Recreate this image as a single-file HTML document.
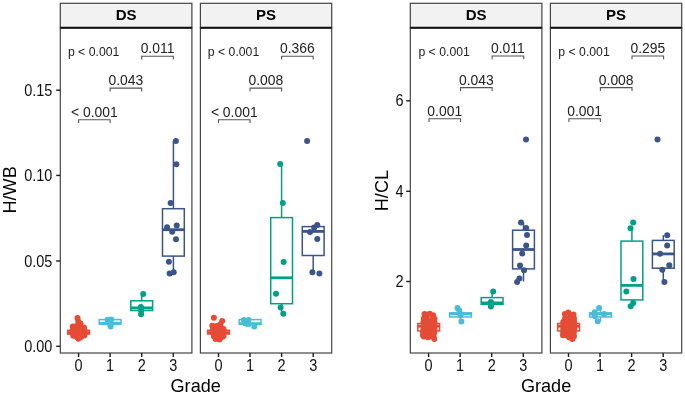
<!DOCTYPE html>
<html><head><meta charset="utf-8"><style>
html,body{margin:0;padding:0;background:#fff;width:685px;height:395px;overflow:hidden}
svg{display:block;will-change:transform}
text{font-family:"Liberation Sans",sans-serif;fill:#000}
.strip{font-size:15px;font-weight:bold;text-anchor:middle;fill:#000}
.tk{font-size:14.5px;fill:#111}
.ti{font-size:18.1px;fill:#000}
.pv{font-size:12.25px;fill:#222}
.br{font-size:13.9px;text-anchor:middle;fill:#222}
</style></head><body>
<svg width="685" height="395" viewBox="0 0 685 395">
<rect x="60.3" y="3.3" width="131.60000000000002" height="24.4" fill="#F2F2F2" stroke="#444" stroke-width="1.2"/>
<text x="126.1" y="20.3" class="strip">DS</text>
<rect x="60.3" y="27.7" width="131.60000000000002" height="325.3" fill="none" stroke="#444" stroke-width="1.2"/>
<line x1="60.3" y1="27.7" x2="191.9" y2="27.7" stroke="#111" stroke-width="2"/>
<rect x="200.4" y="3.3" width="131.29999999999998" height="24.4" fill="#F2F2F2" stroke="#444" stroke-width="1.2"/>
<text x="266.05" y="20.3" class="strip">PS</text>
<rect x="200.4" y="27.7" width="131.29999999999998" height="325.3" fill="none" stroke="#444" stroke-width="1.2"/>
<line x1="200.4" y1="27.7" x2="331.7" y2="27.7" stroke="#111" stroke-width="2"/>
<line x1="78.6" y1="353.0" x2="78.6" y2="357.0" stroke="#222" stroke-width="1.45"/>
<text transform="translate(78.6 370.6) scale(1 1.09)" class="tk" text-anchor="middle">0</text>
<line x1="110.1" y1="353.0" x2="110.1" y2="357.0" stroke="#222" stroke-width="1.45"/>
<text transform="translate(110.1 370.6) scale(1 1.09)" class="tk" text-anchor="middle">1</text>
<line x1="141.7" y1="353.0" x2="141.7" y2="357.0" stroke="#222" stroke-width="1.45"/>
<text transform="translate(141.7 370.6) scale(1 1.09)" class="tk" text-anchor="middle">2</text>
<line x1="173.3" y1="353.0" x2="173.3" y2="357.0" stroke="#222" stroke-width="1.45"/>
<text transform="translate(173.3 370.6) scale(1 1.09)" class="tk" text-anchor="middle">3</text>
<line x1="218.5" y1="353.0" x2="218.5" y2="357.0" stroke="#222" stroke-width="1.45"/>
<text transform="translate(218.5 370.6) scale(1 1.09)" class="tk" text-anchor="middle">0</text>
<line x1="250.0" y1="353.0" x2="250.0" y2="357.0" stroke="#222" stroke-width="1.45"/>
<text transform="translate(250.0 370.6) scale(1 1.09)" class="tk" text-anchor="middle">1</text>
<line x1="281.6" y1="353.0" x2="281.6" y2="357.0" stroke="#222" stroke-width="1.45"/>
<text transform="translate(281.6 370.6) scale(1 1.09)" class="tk" text-anchor="middle">2</text>
<line x1="313.20000000000005" y1="353.0" x2="313.20000000000005" y2="357.0" stroke="#222" stroke-width="1.45"/>
<text transform="translate(313.20000000000005 370.6) scale(1 1.09)" class="tk" text-anchor="middle">3</text>
<text x="195.7" y="391.5" class="ti" text-anchor="middle">Grade</text>
<text x="67.90" y="56.1" class="pv">p &lt; 0.001</text>
<text x="207.80" y="56.1" class="pv">p &lt; 0.001</text>
<path d="M78.6 123.1V119.8H110.1V123.1" fill="none" stroke="#555" stroke-width="1.1"/>
<text x="94.35" y="116.7" class="br">< 0.001</text>
<path d="M110.1 91.39999999999999V88.1H141.7V91.39999999999999" fill="none" stroke="#555" stroke-width="1.1"/>
<text x="125.89999999999999" y="85.0" class="br">0.043</text>
<path d="M141.7 59.599999999999994V56.3H173.3V59.599999999999994" fill="none" stroke="#555" stroke-width="1.1"/>
<text x="157.5" y="53.199999999999996" class="br">0.011</text>
<path d="M218.5 123.1V119.8H250.0V123.1" fill="none" stroke="#555" stroke-width="1.1"/>
<text x="234.25" y="116.7" class="br">< 0.001</text>
<path d="M250.0 91.39999999999999V88.1H281.6V91.39999999999999" fill="none" stroke="#555" stroke-width="1.1"/>
<text x="265.8" y="85.0" class="br">0.008</text>
<path d="M281.6 59.599999999999994V56.3H313.20000000000005V59.599999999999994" fill="none" stroke="#555" stroke-width="1.1"/>
<text x="297.40000000000003" y="53.199999999999996" class="br">0.366</text>
<rect x="410.3" y="3.3" width="131.59999999999997" height="24.4" fill="#F2F2F2" stroke="#444" stroke-width="1.2"/>
<text x="476.1" y="20.3" class="strip">DS</text>
<rect x="410.3" y="27.7" width="131.59999999999997" height="325.3" fill="none" stroke="#444" stroke-width="1.2"/>
<line x1="410.3" y1="27.7" x2="541.9" y2="27.7" stroke="#111" stroke-width="2"/>
<rect x="550.4" y="3.3" width="131.30000000000007" height="24.4" fill="#F2F2F2" stroke="#444" stroke-width="1.2"/>
<text x="616.05" y="20.3" class="strip">PS</text>
<rect x="550.4" y="27.7" width="131.30000000000007" height="325.3" fill="none" stroke="#444" stroke-width="1.2"/>
<line x1="550.4" y1="27.7" x2="681.7" y2="27.7" stroke="#111" stroke-width="2"/>
<line x1="428.6" y1="353.0" x2="428.6" y2="357.0" stroke="#222" stroke-width="1.45"/>
<text transform="translate(428.6 370.6) scale(1 1.09)" class="tk" text-anchor="middle">0</text>
<line x1="460.1" y1="353.0" x2="460.1" y2="357.0" stroke="#222" stroke-width="1.45"/>
<text transform="translate(460.1 370.6) scale(1 1.09)" class="tk" text-anchor="middle">1</text>
<line x1="491.7" y1="353.0" x2="491.7" y2="357.0" stroke="#222" stroke-width="1.45"/>
<text transform="translate(491.7 370.6) scale(1 1.09)" class="tk" text-anchor="middle">2</text>
<line x1="523.3" y1="353.0" x2="523.3" y2="357.0" stroke="#222" stroke-width="1.45"/>
<text transform="translate(523.3 370.6) scale(1 1.09)" class="tk" text-anchor="middle">3</text>
<line x1="568.5" y1="353.0" x2="568.5" y2="357.0" stroke="#222" stroke-width="1.45"/>
<text transform="translate(568.5 370.6) scale(1 1.09)" class="tk" text-anchor="middle">0</text>
<line x1="600.0" y1="353.0" x2="600.0" y2="357.0" stroke="#222" stroke-width="1.45"/>
<text transform="translate(600.0 370.6) scale(1 1.09)" class="tk" text-anchor="middle">1</text>
<line x1="631.6" y1="353.0" x2="631.6" y2="357.0" stroke="#222" stroke-width="1.45"/>
<text transform="translate(631.6 370.6) scale(1 1.09)" class="tk" text-anchor="middle">2</text>
<line x1="663.1999999999999" y1="353.0" x2="663.1999999999999" y2="357.0" stroke="#222" stroke-width="1.45"/>
<text transform="translate(663.1999999999999 370.6) scale(1 1.09)" class="tk" text-anchor="middle">3</text>
<text x="546.1" y="391.5" class="ti" text-anchor="middle">Grade</text>
<text x="418.40" y="56.1" class="pv">p &lt; 0.001</text>
<text x="558.30" y="56.1" class="pv">p &lt; 0.001</text>
<path d="M429.0 122.0V118.7H460.5V122.0" fill="none" stroke="#555" stroke-width="1.1"/>
<text x="444.75" y="115.60000000000001" class="br">0.001</text>
<path d="M460.5 90.89999999999999V87.6H492.09999999999997V90.89999999999999" fill="none" stroke="#555" stroke-width="1.1"/>
<text x="476.29999999999995" y="84.5" class="br">0.043</text>
<path d="M492.09999999999997 59.3V56.0H523.6999999999999V59.3" fill="none" stroke="#555" stroke-width="1.1"/>
<text x="507.9" y="52.9" class="br">0.011</text>
<path d="M568.9 122.0V118.7H600.4V122.0" fill="none" stroke="#555" stroke-width="1.1"/>
<text x="584.65" y="115.60000000000001" class="br">0.001</text>
<path d="M600.4 90.89999999999999V87.6H632.0V90.89999999999999" fill="none" stroke="#555" stroke-width="1.1"/>
<text x="616.2" y="84.5" class="br">0.008</text>
<path d="M632.0 59.3V56.0H663.5999999999999V59.3" fill="none" stroke="#555" stroke-width="1.1"/>
<text x="647.8" y="52.9" class="br">0.295</text>
<line x1="56.2" y1="346.3" x2="60.3" y2="346.3" stroke="#222" stroke-width="1.45"/>
<text transform="translate(52.4 351.80) scale(1 1.09)" class="tk" text-anchor="end">0.00</text>
<line x1="56.2" y1="261.0" x2="60.3" y2="261.0" stroke="#222" stroke-width="1.45"/>
<text transform="translate(52.4 266.50) scale(1 1.09)" class="tk" text-anchor="end">0.05</text>
<line x1="56.2" y1="175.4" x2="60.3" y2="175.4" stroke="#222" stroke-width="1.45"/>
<text transform="translate(52.4 180.90) scale(1 1.09)" class="tk" text-anchor="end">0.10</text>
<line x1="56.2" y1="90.2" x2="60.3" y2="90.2" stroke="#222" stroke-width="1.45"/>
<text transform="translate(52.4 95.70) scale(1 1.09)" class="tk" text-anchor="end">0.15</text>
<text transform="translate(16.3 189.9) rotate(-90)" class="ti" text-anchor="middle">H/WB</text>
<line x1="406.2" y1="281.5" x2="410.3" y2="281.5" stroke="#222" stroke-width="1.45"/>
<text transform="translate(403.6 287.10) scale(1 1.09)" class="tk" text-anchor="end">2</text>
<line x1="406.2" y1="191.3" x2="410.3" y2="191.3" stroke="#222" stroke-width="1.45"/>
<text transform="translate(403.6 196.90) scale(1 1.09)" class="tk" text-anchor="end">4</text>
<line x1="406.2" y1="100.8" x2="410.3" y2="100.8" stroke="#222" stroke-width="1.45"/>
<text transform="translate(403.6 106.40) scale(1 1.09)" class="tk" text-anchor="end">6</text>
<text transform="translate(387.7 190.6) rotate(-90)" class="ti" text-anchor="middle">H/CL</text>
<line x1="78.6" y1="321.0" x2="78.6" y2="330.3" stroke="#E64B35" stroke-width="1.5"/>
<line x1="78.6" y1="334.1" x2="78.6" y2="338.0" stroke="#E64B35" stroke-width="1.5"/>
<rect x="67.69999999999999" y="330.3" width="21.8" height="3.8000000000000114" fill="#fff" stroke="#E64B35" stroke-width="1.5"/>
<line x1="67.69999999999999" y1="332.6" x2="89.5" y2="332.6" stroke="#E64B35" stroke-width="2.8"/>
<circle cx="77.5" cy="317.9" r="3.0" fill="#E64B35"/>
<circle cx="78.3" cy="321.5" r="3.0" fill="#E64B35"/>
<circle cx="80.5" cy="323.5" r="3.0" fill="#E64B35"/>
<circle cx="72.8" cy="326.5" r="3.0" fill="#E64B35"/>
<circle cx="76.5" cy="326" r="3.0" fill="#E64B35"/>
<circle cx="80.5" cy="326.5" r="3.0" fill="#E64B35"/>
<circle cx="84" cy="327.5" r="3.0" fill="#E64B35"/>
<circle cx="72.8" cy="330" r="3.0" fill="#E64B35"/>
<circle cx="76.5" cy="330" r="3.0" fill="#E64B35"/>
<circle cx="80.5" cy="330" r="3.0" fill="#E64B35"/>
<circle cx="84.3" cy="330.5" r="3.0" fill="#E64B35"/>
<circle cx="72.8" cy="333.5" r="3.0" fill="#E64B35"/>
<circle cx="76.5" cy="333.5" r="3.0" fill="#E64B35"/>
<circle cx="80.5" cy="333.5" r="3.0" fill="#E64B35"/>
<circle cx="84.3" cy="334" r="3.0" fill="#E64B35"/>
<circle cx="73.3" cy="335.8" r="3.0" fill="#E64B35"/>
<circle cx="76.5" cy="336.8" r="3.0" fill="#E64B35"/>
<circle cx="78.3" cy="338.7" r="3.0" fill="#E64B35"/>
<circle cx="81" cy="337" r="3.0" fill="#E64B35"/>
<circle cx="84.2" cy="335.6" r="3.0" fill="#E64B35"/>
<circle cx="84.4" cy="333.5" r="3.0" fill="#E64B35"/>
<line x1="110.1" y1="319.0" x2="110.1" y2="319.6" stroke="#4DBBD5" stroke-width="1.5"/>
<line x1="110.1" y1="324.0" x2="110.1" y2="326.5" stroke="#4DBBD5" stroke-width="1.5"/>
<rect x="99.19999999999999" y="319.6" width="21.8" height="4.399999999999977" fill="#fff" stroke="#4DBBD5" stroke-width="1.5"/>
<line x1="99.19999999999999" y1="323.4" x2="121.0" y2="323.4" stroke="#4DBBD5" stroke-width="2.8"/>
<circle cx="107.6" cy="319.7" r="3.0" fill="#4DBBD5"/>
<circle cx="111.2" cy="319.5" r="3.0" fill="#4DBBD5"/>
<circle cx="109.8" cy="322.6" r="3.0" fill="#4DBBD5"/>
<circle cx="110.4" cy="324.5" r="3.0" fill="#4DBBD5"/>
<circle cx="110.6" cy="326.6" r="3.0" fill="#4DBBD5"/>
<line x1="141.7" y1="294.1" x2="141.7" y2="300.8" stroke="#00A087" stroke-width="1.5"/>
<line x1="141.7" y1="310.5" x2="141.7" y2="314.2" stroke="#00A087" stroke-width="1.5"/>
<rect x="130.79999999999998" y="300.8" width="21.8" height="9.699999999999989" fill="#fff" stroke="#00A087" stroke-width="1.5"/>
<line x1="130.79999999999998" y1="307.9" x2="152.6" y2="307.9" stroke="#00A087" stroke-width="2.8"/>
<circle cx="143.2" cy="294.1" r="3.0" fill="#00A087"/>
<circle cx="140.9" cy="306.9" r="3.0" fill="#00A087"/>
<circle cx="141.1" cy="310.5" r="3.0" fill="#00A087"/>
<circle cx="141.1" cy="314.2" r="3.0" fill="#00A087"/>
<line x1="173.4" y1="140.9" x2="173.4" y2="208.7" stroke="#3C5488" stroke-width="1.5"/>
<line x1="173.4" y1="256.1" x2="173.4" y2="272.5" stroke="#3C5488" stroke-width="1.5"/>
<rect x="162.5" y="208.7" width="21.8" height="47.400000000000034" fill="#fff" stroke="#3C5488" stroke-width="1.5"/>
<line x1="162.5" y1="229.7" x2="184.3" y2="229.7" stroke="#3C5488" stroke-width="2.8"/>
<circle cx="175.9" cy="140.9" r="3.0" fill="#3C5488"/>
<circle cx="176.4" cy="164.2" r="3.0" fill="#3C5488"/>
<circle cx="170.6" cy="203" r="3.0" fill="#3C5488"/>
<circle cx="167.1" cy="227.3" r="3.0" fill="#3C5488"/>
<circle cx="176.7" cy="225.6" r="3.0" fill="#3C5488"/>
<circle cx="172.2" cy="231.8" r="3.0" fill="#3C5488"/>
<circle cx="176" cy="239.2" r="3.0" fill="#3C5488"/>
<circle cx="168.9" cy="261.8" r="3.0" fill="#3C5488"/>
<circle cx="169.6" cy="273.4" r="3.0" fill="#3C5488"/>
<circle cx="173.7" cy="272.2" r="3.0" fill="#3C5488"/>
<line x1="218.5" y1="326.0" x2="218.5" y2="330.3" stroke="#E64B35" stroke-width="1.5"/>
<line x1="218.5" y1="334.0" x2="218.5" y2="338.0" stroke="#E64B35" stroke-width="1.5"/>
<rect x="207.6" y="330.3" width="21.8" height="3.6999999999999886" fill="#fff" stroke="#E64B35" stroke-width="1.5"/>
<line x1="207.6" y1="332.6" x2="229.4" y2="332.6" stroke="#E64B35" stroke-width="2.8"/>
<circle cx="213.9" cy="317.7" r="3.0" fill="#E64B35"/>
<circle cx="222.2" cy="321.1" r="3.0" fill="#E64B35"/>
<circle cx="220.3" cy="324.2" r="3.0" fill="#E64B35"/>
<circle cx="212.3" cy="325.8" r="3.0" fill="#E64B35"/>
<circle cx="216.5" cy="326" r="3.0" fill="#E64B35"/>
<circle cx="220.5" cy="326.5" r="3.0" fill="#E64B35"/>
<circle cx="223.5" cy="329" r="3.0" fill="#E64B35"/>
<circle cx="213" cy="329.5" r="3.0" fill="#E64B35"/>
<circle cx="217" cy="330" r="3.0" fill="#E64B35"/>
<circle cx="221" cy="330.5" r="3.0" fill="#E64B35"/>
<circle cx="223.5" cy="332.5" r="3.0" fill="#E64B35"/>
<circle cx="213" cy="333" r="3.0" fill="#E64B35"/>
<circle cx="217" cy="333.5" r="3.0" fill="#E64B35"/>
<circle cx="221" cy="334" r="3.0" fill="#E64B35"/>
<circle cx="223.5" cy="336" r="3.0" fill="#E64B35"/>
<circle cx="214" cy="336.5" r="3.0" fill="#E64B35"/>
<circle cx="218" cy="337" r="3.0" fill="#E64B35"/>
<circle cx="221.5" cy="337" r="3.0" fill="#E64B35"/>
<circle cx="215.6" cy="338.9" r="3.0" fill="#E64B35"/>
<circle cx="219.5" cy="339.5" r="3.0" fill="#E64B35"/>
<circle cx="222.6" cy="336.5" r="3.0" fill="#E64B35"/>
<line x1="250.1" y1="319.5" x2="250.1" y2="319.6" stroke="#4DBBD5" stroke-width="1.5"/>
<line x1="250.1" y1="324.2" x2="250.1" y2="326.5" stroke="#4DBBD5" stroke-width="1.5"/>
<rect x="239.2" y="319.6" width="21.8" height="4.599999999999966" fill="#fff" stroke="#4DBBD5" stroke-width="1.5"/>
<line x1="239.2" y1="323.6" x2="261.0" y2="323.6" stroke="#4DBBD5" stroke-width="2.8"/>
<circle cx="243.9" cy="320" r="3.0" fill="#4DBBD5"/>
<circle cx="248.6" cy="319.9" r="3.0" fill="#4DBBD5"/>
<circle cx="245.5" cy="323.6" r="3.0" fill="#4DBBD5"/>
<circle cx="248.2" cy="324" r="3.0" fill="#4DBBD5"/>
<circle cx="254.3" cy="326.6" r="3.0" fill="#4DBBD5"/>
<line x1="281.6" y1="164.0" x2="281.6" y2="217.6" stroke="#00A087" stroke-width="1.5"/>
<line x1="281.6" y1="303.7" x2="281.6" y2="313.8" stroke="#00A087" stroke-width="1.5"/>
<rect x="270.70000000000005" y="217.6" width="21.8" height="86.1" fill="#fff" stroke="#00A087" stroke-width="1.5"/>
<line x1="270.70000000000005" y1="277.8" x2="292.5" y2="277.8" stroke="#00A087" stroke-width="2.8"/>
<circle cx="280.2" cy="164" r="3.0" fill="#00A087"/>
<circle cx="282.8" cy="203.1" r="3.0" fill="#00A087"/>
<circle cx="283.6" cy="262.1" r="3.0" fill="#00A087"/>
<circle cx="276" cy="293.8" r="3.0" fill="#00A087"/>
<circle cx="280.6" cy="307.6" r="3.0" fill="#00A087"/>
<circle cx="283.3" cy="313.8" r="3.0" fill="#00A087"/>
<line x1="313.2" y1="225.1" x2="313.2" y2="226.6" stroke="#3C5488" stroke-width="1.5"/>
<line x1="313.2" y1="255.5" x2="313.2" y2="272.2" stroke="#3C5488" stroke-width="1.5"/>
<rect x="302.3" y="226.6" width="21.8" height="28.900000000000006" fill="#fff" stroke="#3C5488" stroke-width="1.5"/>
<line x1="302.3" y1="231.4" x2="324.09999999999997" y2="231.4" stroke="#3C5488" stroke-width="2.8"/>
<circle cx="307.1" cy="141" r="3.0" fill="#3C5488"/>
<circle cx="317.3" cy="225.1" r="3.0" fill="#3C5488"/>
<circle cx="314.2" cy="227.6" r="3.0" fill="#3C5488"/>
<circle cx="310" cy="232" r="3.0" fill="#3C5488"/>
<circle cx="317.3" cy="239.1" r="3.0" fill="#3C5488"/>
<circle cx="312.4" cy="272.2" r="3.0" fill="#3C5488"/>
<circle cx="319.4" cy="273.4" r="3.0" fill="#3C5488"/>
<line x1="428.7" y1="316.0" x2="428.7" y2="323.5" stroke="#E64B35" stroke-width="1.5"/>
<line x1="428.7" y1="330.9" x2="428.7" y2="336.0" stroke="#E64B35" stroke-width="1.5"/>
<rect x="417.8" y="323.5" width="21.8" height="7.399999999999977" fill="#fff" stroke="#E64B35" stroke-width="1.5"/>
<line x1="417.8" y1="326.2" x2="439.59999999999997" y2="326.2" stroke="#E64B35" stroke-width="2.8"/>
<circle cx="424.5" cy="313.9" r="3.0" fill="#E64B35"/>
<circle cx="427" cy="314.8" r="3.0" fill="#E64B35"/>
<circle cx="429.8" cy="313.7" r="3.0" fill="#E64B35"/>
<circle cx="433.1" cy="315.2" r="3.0" fill="#E64B35"/>
<circle cx="423.8" cy="318.5" r="3.0" fill="#E64B35"/>
<circle cx="426.5" cy="319" r="3.0" fill="#E64B35"/>
<circle cx="432" cy="319.5" r="3.0" fill="#E64B35"/>
<circle cx="434.5" cy="318.8" r="3.0" fill="#E64B35"/>
<circle cx="423.5" cy="322" r="3.0" fill="#E64B35"/>
<circle cx="427.5" cy="322" r="3.0" fill="#E64B35"/>
<circle cx="431.5" cy="322" r="3.0" fill="#E64B35"/>
<circle cx="434.5" cy="322" r="3.0" fill="#E64B35"/>
<circle cx="423.5" cy="325.5" r="3.0" fill="#E64B35"/>
<circle cx="427.5" cy="325.5" r="3.0" fill="#E64B35"/>
<circle cx="431.5" cy="325.5" r="3.0" fill="#E64B35"/>
<circle cx="434.5" cy="325.5" r="3.0" fill="#E64B35"/>
<circle cx="423.5" cy="329" r="3.0" fill="#E64B35"/>
<circle cx="427.5" cy="329" r="3.0" fill="#E64B35"/>
<circle cx="431.5" cy="329" r="3.0" fill="#E64B35"/>
<circle cx="434.5" cy="329" r="3.0" fill="#E64B35"/>
<circle cx="423.0" cy="332.5" r="3.0" fill="#E64B35"/>
<circle cx="427.5" cy="332.5" r="3.0" fill="#E64B35"/>
<circle cx="431.5" cy="332.5" r="3.0" fill="#E64B35"/>
<circle cx="434.3" cy="332.5" r="3.0" fill="#E64B35"/>
<circle cx="423.0" cy="335.3" r="3.0" fill="#E64B35"/>
<circle cx="427.5" cy="336" r="3.0" fill="#E64B35"/>
<circle cx="431.5" cy="336" r="3.0" fill="#E64B35"/>
<circle cx="433.6" cy="336" r="3.0" fill="#E64B35"/>
<circle cx="423.8" cy="336.6" r="3.0" fill="#E64B35"/>
<circle cx="428.1" cy="337.3" r="3.0" fill="#E64B35"/>
<circle cx="434.3" cy="339.1" r="3.0" fill="#E64B35"/>
<line x1="460.5" y1="307.9" x2="460.5" y2="312.9" stroke="#4DBBD5" stroke-width="1.5"/>
<line x1="460.5" y1="317.0" x2="460.5" y2="321.5" stroke="#4DBBD5" stroke-width="1.5"/>
<rect x="449.6" y="312.9" width="21.8" height="4.100000000000023" fill="#fff" stroke="#4DBBD5" stroke-width="1.5"/>
<line x1="449.6" y1="313.9" x2="471.4" y2="313.9" stroke="#4DBBD5" stroke-width="2.8"/>
<circle cx="457.5" cy="307.9" r="3.0" fill="#4DBBD5"/>
<circle cx="459.4" cy="311" r="3.0" fill="#4DBBD5"/>
<circle cx="460.5" cy="315.3" r="3.0" fill="#4DBBD5"/>
<circle cx="461.4" cy="321.5" r="3.0" fill="#4DBBD5"/>
<line x1="492.1" y1="291.5" x2="492.1" y2="297.6" stroke="#00A087" stroke-width="1.5"/>
<line x1="492.1" y1="304.4" x2="492.1" y2="306.6" stroke="#00A087" stroke-width="1.5"/>
<rect x="481.20000000000005" y="297.6" width="21.8" height="6.7999999999999545" fill="#fff" stroke="#00A087" stroke-width="1.5"/>
<line x1="481.20000000000005" y1="302.9" x2="503.0" y2="302.9" stroke="#00A087" stroke-width="2.8"/>
<circle cx="493.2" cy="291.5" r="3.0" fill="#00A087"/>
<circle cx="490.9" cy="302.1" r="3.0" fill="#00A087"/>
<circle cx="490.9" cy="306.6" r="3.0" fill="#00A087"/>
<line x1="523.5" y1="222.6" x2="523.5" y2="230.2" stroke="#3C5488" stroke-width="1.5"/>
<line x1="523.5" y1="268.9" x2="523.5" y2="281.5" stroke="#3C5488" stroke-width="1.5"/>
<rect x="512.6" y="230.2" width="21.8" height="38.69999999999999" fill="#fff" stroke="#3C5488" stroke-width="1.5"/>
<line x1="512.6" y1="249.5" x2="534.4" y2="249.5" stroke="#3C5488" stroke-width="2.8"/>
<circle cx="526" cy="139.6" r="3.0" fill="#3C5488"/>
<circle cx="521" cy="222.6" r="3.0" fill="#3C5488"/>
<circle cx="526.2" cy="228" r="3.0" fill="#3C5488"/>
<circle cx="527" cy="235" r="3.0" fill="#3C5488"/>
<circle cx="526.2" cy="245.4" r="3.0" fill="#3C5488"/>
<circle cx="522.2" cy="253.5" r="3.0" fill="#3C5488"/>
<circle cx="520" cy="265.5" r="3.0" fill="#3C5488"/>
<circle cx="524" cy="270.3" r="3.0" fill="#3C5488"/>
<circle cx="517.1" cy="282" r="3.0" fill="#3C5488"/>
<circle cx="519.4" cy="278.6" r="3.0" fill="#3C5488"/>
<line x1="568.6" y1="316.0" x2="568.6" y2="323.5" stroke="#E64B35" stroke-width="1.5"/>
<line x1="568.6" y1="330.9" x2="568.6" y2="336.0" stroke="#E64B35" stroke-width="1.5"/>
<rect x="557.7" y="323.5" width="21.8" height="7.399999999999977" fill="#fff" stroke="#E64B35" stroke-width="1.5"/>
<line x1="557.7" y1="326.2" x2="579.5" y2="326.2" stroke="#E64B35" stroke-width="2.8"/>
<circle cx="564.9" cy="313.9" r="3.0" fill="#E64B35"/>
<circle cx="568.3" cy="312.6" r="3.0" fill="#E64B35"/>
<circle cx="573.5" cy="314.4" r="3.0" fill="#E64B35"/>
<circle cx="571" cy="315.5" r="3.0" fill="#E64B35"/>
<circle cx="565" cy="318.5" r="3.0" fill="#E64B35"/>
<circle cx="569" cy="318.5" r="3.0" fill="#E64B35"/>
<circle cx="574" cy="318.5" r="3.0" fill="#E64B35"/>
<circle cx="563.2" cy="322" r="3.0" fill="#E64B35"/>
<circle cx="567" cy="322" r="3.0" fill="#E64B35"/>
<circle cx="571" cy="322" r="3.0" fill="#E64B35"/>
<circle cx="574.2" cy="322" r="3.0" fill="#E64B35"/>
<circle cx="563.2" cy="325.5" r="3.0" fill="#E64B35"/>
<circle cx="567" cy="325.5" r="3.0" fill="#E64B35"/>
<circle cx="571" cy="325.5" r="3.0" fill="#E64B35"/>
<circle cx="574.2" cy="325.5" r="3.0" fill="#E64B35"/>
<circle cx="563.2" cy="329" r="3.0" fill="#E64B35"/>
<circle cx="567" cy="329" r="3.0" fill="#E64B35"/>
<circle cx="571" cy="329" r="3.0" fill="#E64B35"/>
<circle cx="574.2" cy="329" r="3.0" fill="#E64B35"/>
<circle cx="563.2" cy="332.5" r="3.0" fill="#E64B35"/>
<circle cx="567" cy="332.5" r="3.0" fill="#E64B35"/>
<circle cx="571" cy="332.5" r="3.0" fill="#E64B35"/>
<circle cx="573.8" cy="332.5" r="3.0" fill="#E64B35"/>
<circle cx="563.0" cy="335.3" r="3.0" fill="#E64B35"/>
<circle cx="567" cy="335.5" r="3.0" fill="#E64B35"/>
<circle cx="571" cy="336" r="3.0" fill="#E64B35"/>
<circle cx="574.0" cy="336.2" r="3.0" fill="#E64B35"/>
<circle cx="569.2" cy="337.4" r="3.0" fill="#E64B35"/>
<circle cx="572.4" cy="338.9" r="3.0" fill="#E64B35"/>
<line x1="600.5" y1="307.9" x2="600.5" y2="312.9" stroke="#4DBBD5" stroke-width="1.5"/>
<line x1="600.5" y1="317.0" x2="600.5" y2="321.3" stroke="#4DBBD5" stroke-width="1.5"/>
<rect x="589.6" y="312.9" width="21.8" height="4.100000000000023" fill="#fff" stroke="#4DBBD5" stroke-width="1.5"/>
<line x1="589.6" y1="313.9" x2="611.4" y2="313.9" stroke="#4DBBD5" stroke-width="2.8"/>
<circle cx="599.1" cy="307.9" r="3.0" fill="#4DBBD5"/>
<circle cx="594.7" cy="312.3" r="3.0" fill="#4DBBD5"/>
<circle cx="594.7" cy="316.3" r="3.0" fill="#4DBBD5"/>
<circle cx="604.1" cy="314.0" r="3.0" fill="#4DBBD5"/>
<circle cx="597.7" cy="321.3" r="3.0" fill="#4DBBD5"/>
<line x1="631.9" y1="228.3" x2="631.9" y2="241.1" stroke="#00A087" stroke-width="1.5"/>
<line x1="631.9" y1="299.9" x2="631.9" y2="306.3" stroke="#00A087" stroke-width="1.5"/>
<rect x="621.0" y="241.1" width="21.8" height="58.79999999999998" fill="#fff" stroke="#00A087" stroke-width="1.5"/>
<line x1="621.0" y1="285.4" x2="642.8" y2="285.4" stroke="#00A087" stroke-width="2.8"/>
<circle cx="633.2" cy="222.5" r="3.0" fill="#00A087"/>
<circle cx="630.5" cy="228.3" r="3.0" fill="#00A087"/>
<circle cx="633.5" cy="278.9" r="3.0" fill="#00A087"/>
<circle cx="626.3" cy="291.5" r="3.0" fill="#00A087"/>
<circle cx="633.2" cy="302.9" r="3.0" fill="#00A087"/>
<circle cx="630.7" cy="306.3" r="3.0" fill="#00A087"/>
<line x1="663.3" y1="235.2" x2="663.3" y2="240.4" stroke="#3C5488" stroke-width="1.5"/>
<line x1="663.3" y1="268.2" x2="663.3" y2="282.1" stroke="#3C5488" stroke-width="1.5"/>
<rect x="652.4" y="240.4" width="21.8" height="27.799999999999983" fill="#fff" stroke="#3C5488" stroke-width="1.5"/>
<line x1="652.4" y1="253.9" x2="674.1999999999999" y2="253.9" stroke="#3C5488" stroke-width="2.8"/>
<circle cx="657.5" cy="139.4" r="3.0" fill="#3C5488"/>
<circle cx="667.2" cy="235.2" r="3.0" fill="#3C5488"/>
<circle cx="667.2" cy="245.6" r="3.0" fill="#3C5488"/>
<circle cx="660.1" cy="253.8" r="3.0" fill="#3C5488"/>
<circle cx="669.3" cy="265.3" r="3.0" fill="#3C5488"/>
<circle cx="662.3" cy="269.7" r="3.0" fill="#3C5488"/>
<circle cx="664.4" cy="282.1" r="3.0" fill="#3C5488"/>
</svg>
</body></html>
